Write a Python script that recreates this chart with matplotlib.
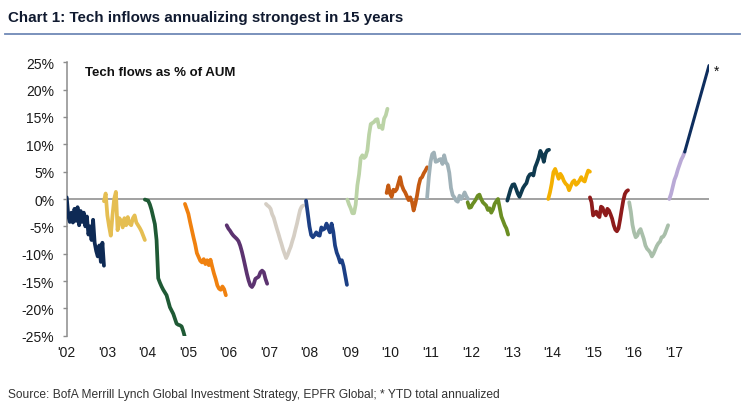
import matplotlib
matplotlib.use("Agg")
import matplotlib.pyplot as plt
import numpy as np
from matplotlib import font_manager as fm

# ---------------- data ----------------
years = ["'02", "'03", "'04", "'05", "'06", "'07", "'08", "'09", "'10", "'11",
         "'12", "'13", "'14", "'15", "'16", "'17"]
tick_years = list(range(2002, 2018))
y_ticks = [-25, -20, -15, -10, -5, 0, 5, 10, 15, 20, 25]

# segment: (start date, end date) in fractional years
seg_dates = {
    "2002": (2002.00, 2002.92),
    "2003": (2002.92, 2003.93),
    "2004": (2003.93, 2004.92),
    "2005": (2004.92, 2005.93),
    "2006": (2005.95, 2006.95),
    "2007": (2006.92, 2007.84),
    "2008": (2007.91, 2008.92),
    "2009": (2008.93, 2009.92),
    "2010": (2009.90, 2010.90),
    "2011": (2010.90, 2011.91),
    "2012": (2011.90, 2012.90),
    "2013": (2012.88, 2013.91),
    "2014": (2013.89, 2014.92),
    "2015": (2014.92, 2015.86),
    "2016": (2015.89, 2016.85),
    "2017": (2016.88, 2017.26),
    "2017 YTD annualized": (2017.26, 2017.86),
}

flows_2002 = [0.3, -3.0, -4.2, -2.5, -4.3, -1.8, -4.0, -1.5, -4.8, -2.2, -4.2, -2.5, -5.0,
              -3.2, -6.5, -5.0, -7.5, -3.8, -8.0, -9.5, -10.5, -8.5, -11.5, -8.0, -12.2]
flows_2003 = [-0.4, 1.0, -3.0, -5.0, -6.7, -3.0, 0.0, 1.3, -5.7, -3.5, -4.0, -5.2, -3.5,
              -4.8, -3.3, -4.5, -4.8, -3.5, -3.0, -4.3, -4.8, -5.3, -5.9, -6.7, -7.5]
flows_2004 = [-0.1, -0.2, -0.3, -1.0, -2.0, -3.3, -4.6, -7.5, -14.5, -15.3, -16.0, -16.6,
              -17.1, -17.6, -18.7, -19.8, -20.4, -21.0, -21.9, -22.8, -23.0, -23.1, -23.3,
              -24.2, -25.3]
flows_2005 = [-0.9, -1.8, -2.7, -4.2, -5.6, -7.0, -8.3, -9.9, -10.6, -11.3, -11.6, -11.0,
              -11.9, -11.2, -12.1, -11.1, -12.4, -13.6, -14.6, -15.8, -16.4, -16.6, -16.0,
              -16.5, -17.6]
flows_2006 = [-4.8, -5.4, -5.8, -6.3, -6.7, -7.0, -7.3, -7.7, -8.5, -9.6, -10.9, -12.3,
              -13.7, -14.9, -15.8, -16.1, -15.6, -14.6, -14.4, -14.2, -13.4, -13.1, -13.4,
              -14.6, -15.5]
flows_2007 = [-0.9, -1.2, -1.4, -1.8, -2.8, -3.4, -4.4, -5.4, -6.3, -7.3, -8.2, -9.2, -10.0,
              -10.8, -10.2, -9.4, -8.7, -7.7, -6.8, -5.6, -4.5, -3.2, -2.0, -1.4, -1.2]
flows_2008 = [-0.3, -2.6, -5.0, -6.6, -7.0, -6.6, -6.1, -6.6, -6.7, -5.2, -5.6, -5.4, -4.5,
              -5.3, -6.1, -4.5, -6.0, -8.5, -9.8, -10.6, -11.6, -11.2, -12.3, -14.0, -15.7]
flows_2009 = [-0.1, -1.0, -1.7, -2.6, -2.6, -1.0, 2.5, 4.5, 7.5, 8.0, 7.5, 7.8, 8.9, 11.8,
              13.7, 13.9, 14.1, 14.5, 14.6, 13.1, 13.3, 12.8, 14.7, 15.3, 16.5]
flows_2010 = [1.1, 2.5, 1.0, 0.4, 1.7, 1.4, 1.8, 2.9, 4.0, 2.5, 1.7, 1.2, 0.5, -0.2, 0.3,
              -0.5, -2.1, -0.9, 0.6, 2.5, 3.7, 4.0, 4.7, 5.2, 5.8]
flows_2011 = [0.3, 4.0, 6.8, 8.2, 8.5, 6.8, 6.9, 7.2, 7.3, 6.4, 8.0, 6.7, 6.3, 4.8, 2.0, 0.7,
              0.3, -0.3, -0.5, 0.6, 0.0, 0.5, 1.2, 0.5, 0.0]
flows_2012 = [-0.6, -1.6, -1.5, -0.9, -0.5, 0.0, 0.6, 0.8, 0.0, -0.6, -0.9, -1.2, -2.0, -1.7,
              -2.5, -1.9, -0.9, -0.4, 0.0, -1.6, -3.2, -4.0, -4.8, -5.4, -6.5]
flows_2013 = [-0.3, 0.8, 1.9, 2.6, 2.7, 1.9, 1.0, 0.4, 1.2, 2.0, 2.5, 2.9, 4.0, 4.5, 4.6, 4.3,
              5.8, 6.6, 7.5, 8.8, 8.1, 6.8, 8.3, 8.9, 9.0]
flows_2014 = [0.0, 1.2, 2.8, 4.9, 5.5, 4.6, 3.7, 4.6, 4.1, 3.3, 2.8, 2.5, 1.6, 2.4, 3.1, 3.4,
              2.6, 2.9, 3.4, 4.0, 3.4, 3.2, 4.3, 5.2, 5.0]
flows_2015 = [0.3, -0.6, -3.0, -2.7, -2.3, -3.0, -3.3, -1.4, -1.6, -2.5, -3.0, -1.8, -2.1,
              -2.8, -3.6, -4.8, -5.6, -5.9, -5.4, -3.8, -2.0, -0.3, 0.9, 1.4, 1.6]
flows_2016 = [-0.6, -2.3, -4.7, -6.1, -7.0, -6.7, -5.9, -5.5, -6.4, -7.3, -8.5, -9.1, -9.4,
              -9.8, -10.5, -10.0, -9.3, -8.6, -8.1, -7.8, -7.0, -6.9, -6.4, -5.6, -4.8]
flows_2017 = [0.0, 0.9, 2.2, 3.5, 4.3, 5.4, 6.3, 7.2, 7.8, 8.6]
flows_2017_ytd = [8.6, 24.4]

seg_values = {
    "2002": flows_2002, "2003": flows_2003, "2004": flows_2004, "2005": flows_2005,
    "2006": flows_2006, "2007": flows_2007, "2008": flows_2008, "2009": flows_2009,
    "2010": flows_2010, "2011": flows_2011, "2012": flows_2012, "2013": flows_2013,
    "2014": flows_2014, "2015": flows_2015, "2016": flows_2016, "2017": flows_2017,
    "2017 YTD annualized": flows_2017_ytd,
}

seg_colors = {
    "2002": "#0E2A55", "2003": "#E5BE52", "2004": "#1F5A35", "2005": "#F0810F",
    "2006": "#5C3370", "2007": "#D5CEC4", "2008": "#1C3F85", "2009": "#BBD3A6",
    "2010": "#C55A11", "2011": "#9FB1B8", "2012": "#6B8E23", "2013": "#0F3A4F",
    "2014": "#F4B000", "2015": "#8E1B1B", "2016": "#A9BFAA", "2017": "#B9A9D6",
    "2017 YTD annualized": "#0E2E5E",
}

# ---------------- fonts ----------------
def has_font(name):
    try:
        fm.findfont(fm.FontProperties(family=name), fallback_to_default=False)
        return True
    except Exception:
        return False

narrow = "Liberation Sans Narrow" if has_font("Liberation Sans Narrow") else "Liberation Sans"
narrow_scale = 1.0 if narrow == "Liberation Sans Narrow" else 0.91
plt.rcParams["font.family"] = ["Liberation Sans", "DejaVu Sans"]

# ---------------- figure ----------------
W, H = 744, 414
fig = plt.figure(figsize=(W / 100, H / 100), dpi=100)
left, right, top, bottom = 66.7, 709.4, 63.3, 336.7
ax = fig.add_axes([left / W, 1 - bottom / H, (right - left) / W, (bottom - top) / H])

for key, vals in seg_values.items():
    d0, d1 = seg_dates[key]
    x = np.linspace(d0, d1, len(vals))
    lw = 2.7 if key != "2017 YTD annualized" else 2.2
    ax.plot(x, vals, color=seg_colors[key], lw=lw, solid_joinstyle="round",
            solid_capstyle="round", zorder=3)

ax.axhline(0, color="#9a9a9a", lw=1.3, zorder=2)
ax.set_xlim(2002.0, 2017.87)
ax.set_ylim(-25, 25)
ax.set_yticks(y_ticks)
ax.set_yticklabels([f"{v}%" for v in y_ticks])
ax.set_xticks(tick_years)
ax.set_xticklabels(years)

for s in ["top", "right", "bottom"]:
    ax.spines[s].set_visible(False)
ax.spines["left"].set_color("#8c8c8c")
ax.spines["left"].set_linewidth(1.1)
ax.tick_params(axis="y", direction="out", length=3, width=1.0, color="#8c8c8c",
               labelsize=10, pad=6, labelcolor="#1a1a1a")
ax.tick_params(axis="x", length=0, labelsize=10, pad=7, labelcolor="#1a1a1a")

ax.text(85 / W, 1 - 73 / H, "Tech flows as % of AUM", transform=fig.transFigure,
        fontsize=9.5, fontweight="bold", va="center", ha="left", color="#111111")
ax.text(2017.87 + 0.12, 23.4, "*", fontsize=10, ha="left", va="center",
        color="#111111", clip_on=False)

fig.text(8 / W, 1 - 18 / H, "Chart 1: Tech inflows annualizing strongest in 15 years",
         family=[narrow, "DejaVu Sans"], fontsize=12 * narrow_scale, fontweight="bold",
         va="center", ha="left", color="#101a30")
fig.add_artist(plt.Line2D([5 / W, 740 / W], [1 - 34.5 / H, 1 - 34.5 / H],
                          transform=fig.transFigure, color="#6F89B6", lw=1.3))
fig.text(8 / W, 1 - 395 / H,
         "Source: BofA Merrill Lynch Global Investment Strategy, EPFR Global; * YTD total annualized",
         family=[narrow, "DejaVu Sans"], fontsize=9.5 * narrow_scale, va="center", ha="left",
         color="#333333")

fig.savefig("out.png", dpi=100)
